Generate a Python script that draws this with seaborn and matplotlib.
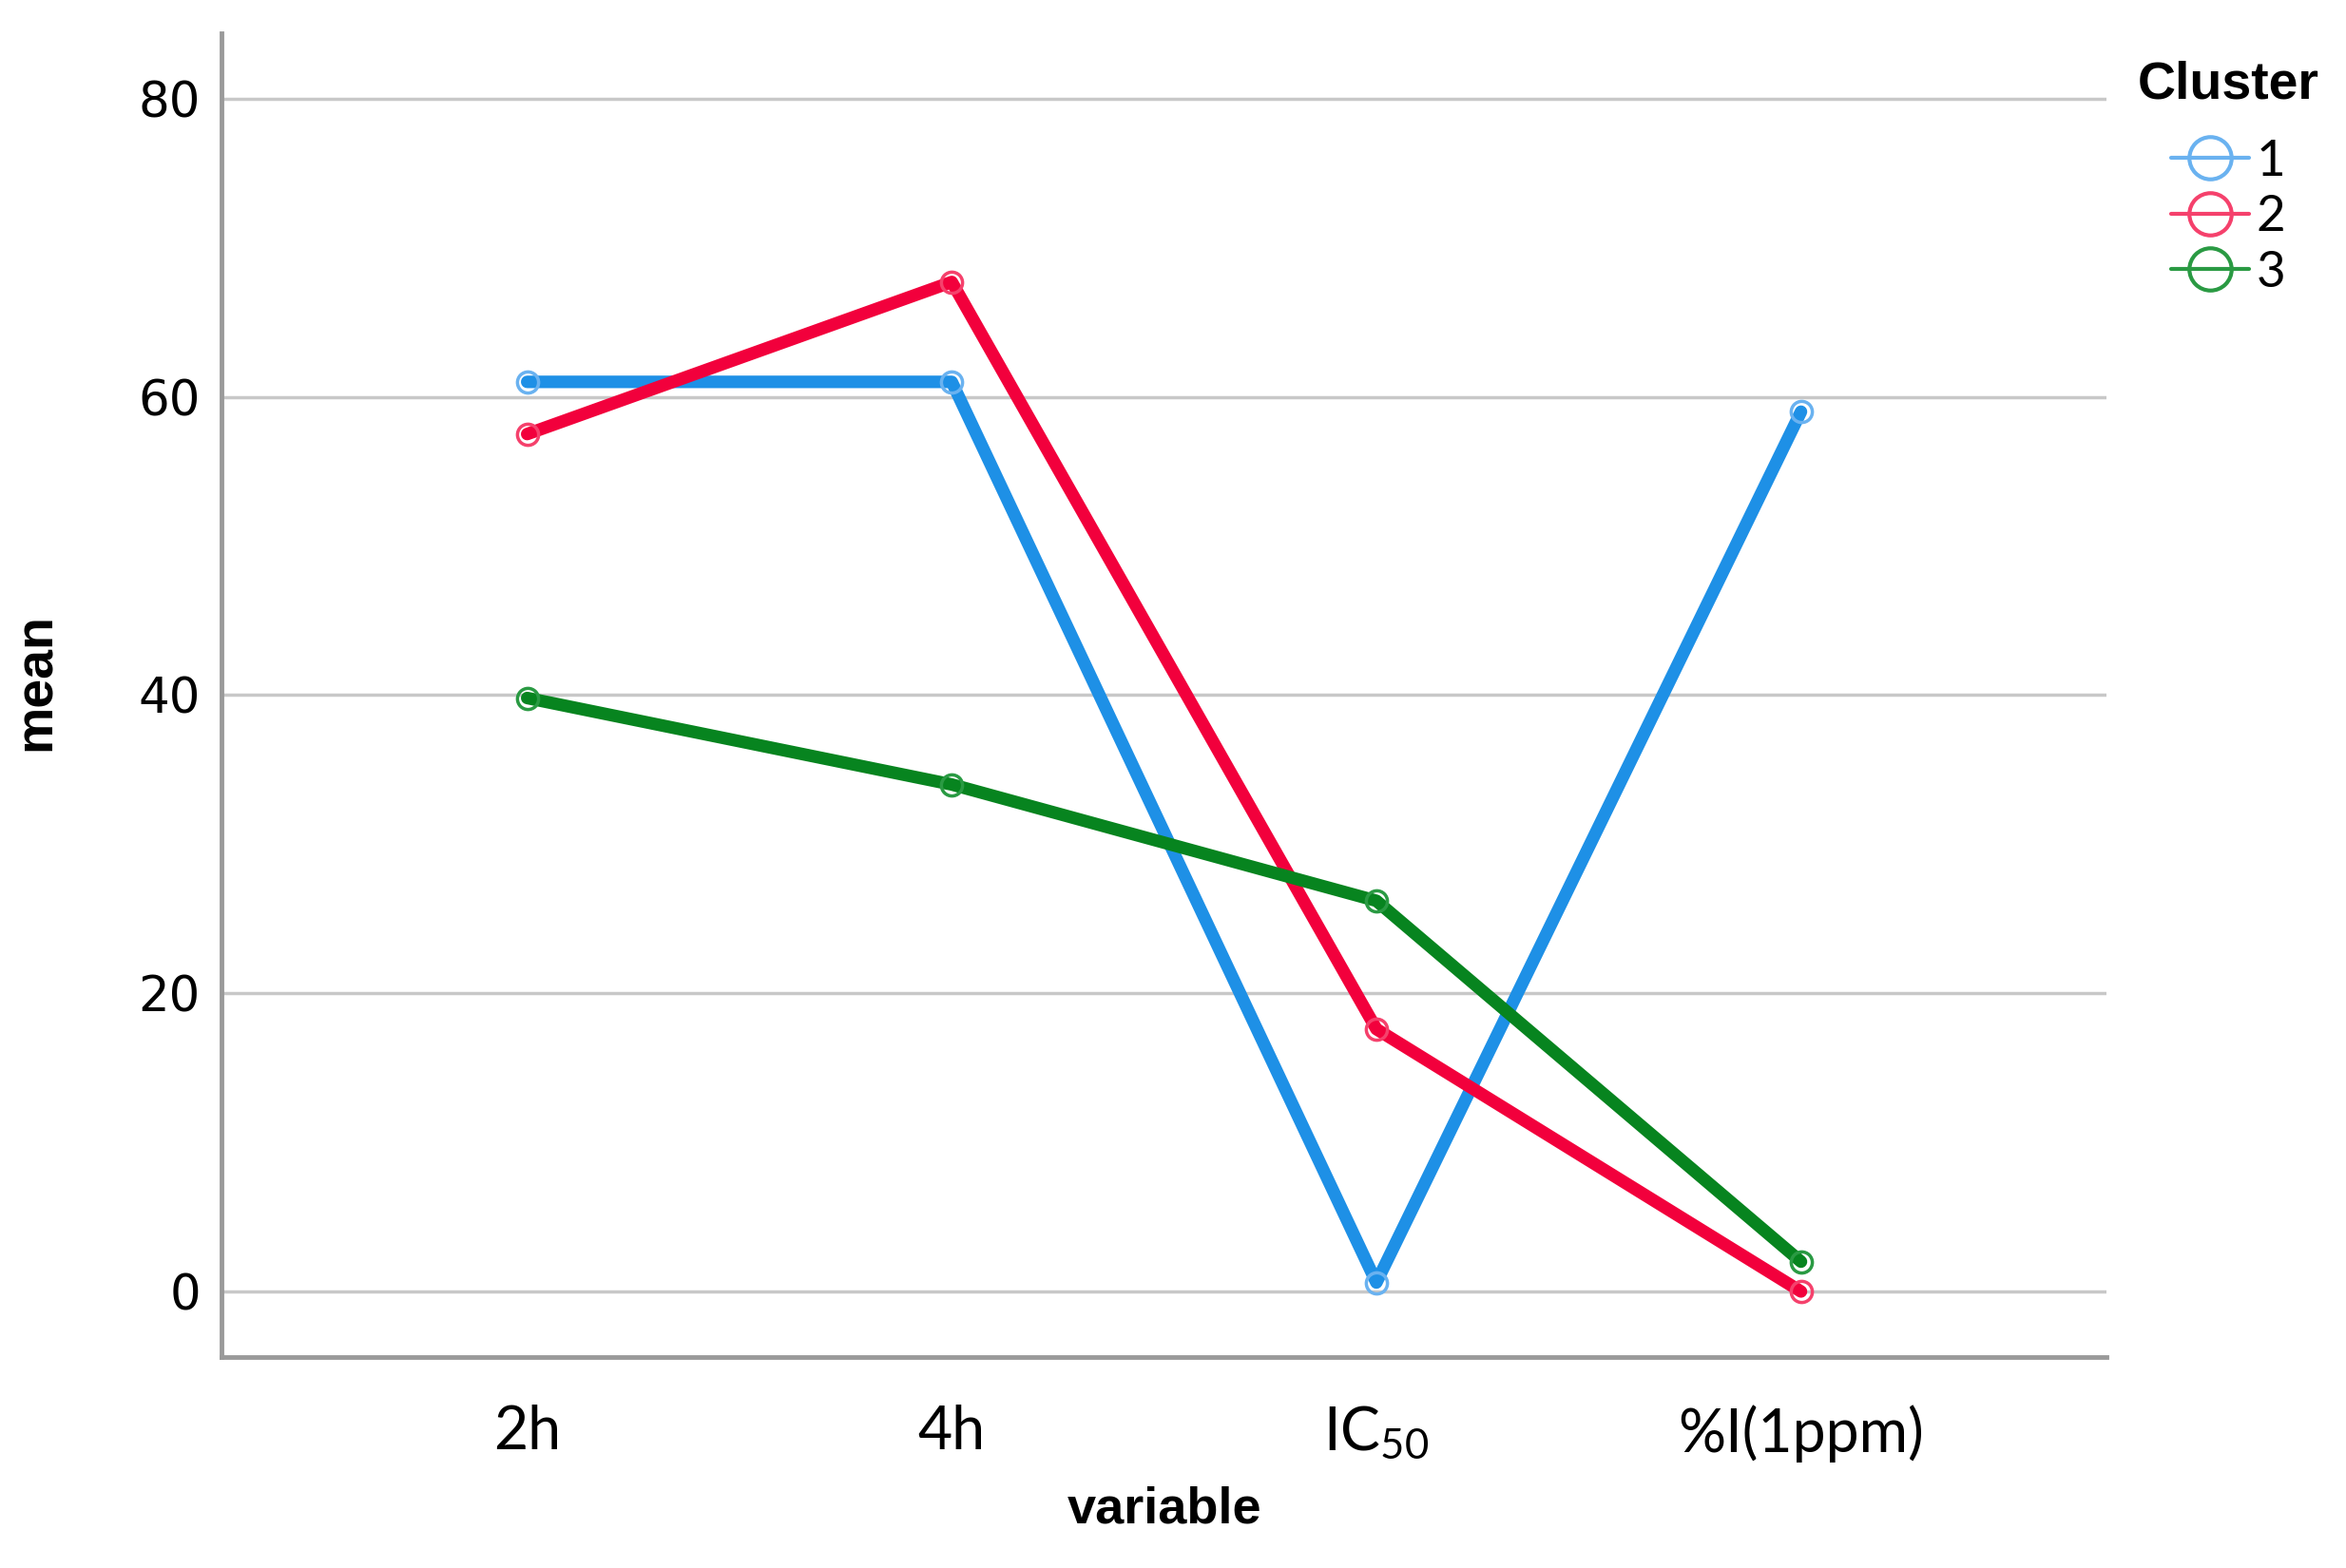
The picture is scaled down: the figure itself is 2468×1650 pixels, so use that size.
import matplotlib
matplotlib.use("Agg")
import matplotlib.pyplot as plt
from matplotlib.lines import Line2D
import seaborn as sns
import pandas as pd

# ---- data ----
variables = ["2h", "4h", "IC$_{50}$", "%I(1ppm)"]
clusters = ["1", "2", "3"]
cluster1 = [61.0, 61.0, 0.6, 59.0]
cluster2 = [57.5, 67.7, 17.6, 0.0]
cluster3 = [39.8, 34.0, 26.2, 2.0]
y_ticks = [0, 20, 40, 60, 80]

line_colors = ["#1E90E6", "#F2003C", "#07841F"]
marker_colors = ["#6AB2F0", "#F5416C", "#2A9A43"]

rows = []
for c, vals in zip(clusters, [cluster1, cluster2, cluster3]):
    for v, m in zip(variables, vals):
        rows.append({"variable": v, "mean": m, "Cluster": c})
df = pd.DataFrame(rows)

sns.set_theme(style="white")
plt.rcParams["font.family"] = ["Liberation Sans", "DejaVu Sans"]
plt.rcParams["mathtext.fontset"] = "custom"
plt.rcParams["mathtext.rm"] = "Lato"
plt.rcParams["mathtext.it"] = "Lato"
plt.rcParams["text.color"] = "black"
plt.rcParams["axes.labelcolor"] = "black"
plt.rcParams["xtick.color"] = "black"
plt.rcParams["ytick.color"] = "black"

fig = plt.figure(figsize=(24.68, 16.5), dpi=100)
ax = fig.add_axes([0.0944, 0.1345, 0.8036, 0.8445])

sns.lineplot(data=df, x="variable", y="mean", hue="Cluster", hue_order=clusters,
             palette=dict(zip(clusters, line_colors)), sort=False,
             marker="o", ax=ax, legend=False, zorder=3)

for ln, mc in zip(ax.get_lines(), marker_colors):
    ln.set_linewidth(9.5)
    ln.set_markersize(16)
    ln.set_markerfacecolor("none")
    ln.set_markeredgecolor(mc)
    ln.set_markeredgewidth(2.5)

ax.set_xlim(-0.72, 3.72)
ax.set_ylim(-4.4, 84.4)
ax.set_yticks(y_ticks)
ax.yaxis.grid(True, color="#C8C8C8", linewidth=2.5, zorder=0)
ax.xaxis.grid(False)
ax.set_axisbelow(True)
for s in ["top", "right"]:
    ax.spines[s].set_visible(False)
for s in ["left", "bottom"]:
    ax.spines[s].set_color("#9A9A9A")
    ax.spines[s].set_linewidth(3.5)
ax.tick_params(axis="both", length=0, colors="black")
ax.tick_params(axis="y", pad=16)
ax.tick_params(axis="x", pad=36)
for lbl in ax.get_yticklabels():
    lbl.set_fontfamily("DejaVu Sans")
    lbl.set_fontsize(37)
for lbl in ax.get_xticklabels():
    lbl.set_fontfamily("Lato")
    lbl.set_fontsize(45)

ax.set_xlabel("variable", fontsize=39, fontweight="bold", labelpad=18, color="black")
ax.set_ylabel("mean", fontsize=40, fontweight="bold", labelpad=58, color="black")
ax.yaxis.label.set_y(0.51)

handles = [Line2D([0], [0], color=mc, linewidth=3, marker="o", markersize=32,
                  markerfacecolor="none", markeredgecolor=mc, markeredgewidth=3)
           for mc in marker_colors]
leg = fig.legend(handles, clusters, title="Cluster", loc="upper left",
                 bbox_to_anchor=(0.892, 0.99), frameon=False, fontsize=38,
                 title_fontproperties={"weight": "bold", "size": 40},
                 handlelength=1.55, handletextpad=0.15, labelspacing=0.22)
leg._legend_box.sep = 22
for t in leg.get_texts():
    t.set_fontfamily("Lato")
    t.set_color("black")
leg.get_title().set_color("black")

fig.savefig("out.png", dpi=100, facecolor="white")
